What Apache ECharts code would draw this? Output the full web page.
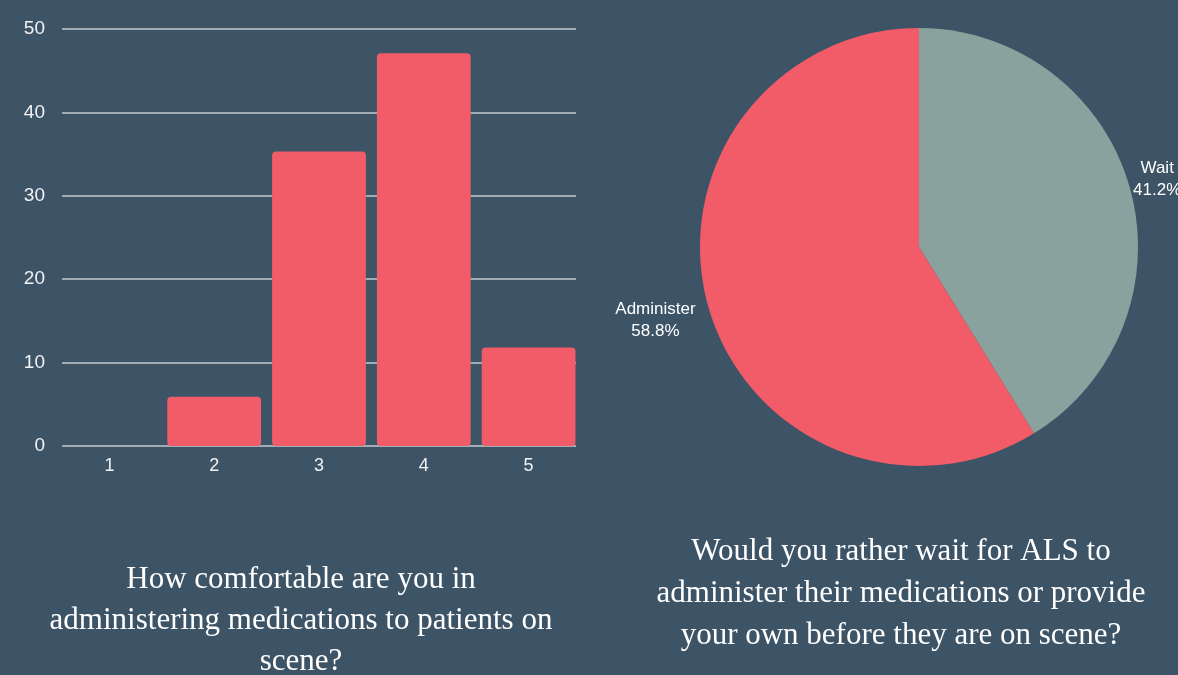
<!DOCTYPE html>
<html>
<head>
<meta charset="utf-8">
<script src="https://cdn.jsdelivr.net/npm/echarts@6/dist/echarts.min.js"></script>
<style>
html,body{margin:0;padding:0;background:#3d5366;}
#c{width:1178px;height:675px;}
</style>
</head>
<body>
<div id="c"></div>
<script>
var barCategories = ['1', '2', '3', '4', '5'];
var barValues = [0, 5.9, 35.3, 47.1, 11.8];
var yTicks = {min: 0, max: 50, interval: 10};
var pieNames = ['Wait', 'Administer'];
var pieValues = [41.2, 58.8];
var leftTitle = 'How comfortable are you in\nadministering medications to patients on\nscene?';
var rightTitle = 'Would you rather wait for ALS to\nadminister their medications or provide\nyour own before they are on scene?';

var RED = '#f25c69';
var GREEN = '#89a29d';
var AXISTEXT = '#f0f2f4';
var chart = echarts.init(document.getElementById('c'), null, {renderer: 'canvas'});
chart.setOption({
  backgroundColor: '#3d5366',
  animation: false,
  title: [
    {text: leftTitle, left: 301, top: 559, textAlign: 'center', padding: 0,
     textStyle: {color: '#ffffff', fontFamily: 'Liberation Serif', fontWeight: 'normal', fontSize: 31, lineHeight: 41}},
    {text: rightTitle, left: 901, top: 531, textAlign: 'center', padding: 0,
     textStyle: {color: '#ffffff', fontFamily: 'Liberation Serif', fontWeight: 'normal', fontSize: 31, lineHeight: 42}}
  ],
  grid: [
    {left: 62, right: 602, top: 29, bottom: 229, containLabel: false},
    {left: 57, right: 597, top: 29, bottom: 229, containLabel: false}
  ],
  xAxis: [
    {gridIndex: 0, type: 'value', min: 0, max: 1, show: false},
    {
      gridIndex: 1, type: 'category', data: barCategories,
      axisLine: {show: false},
      axisTick: {show: false},
      axisLabel: {color: AXISTEXT, fontSize: 18, fontFamily: 'Liberation Sans', margin: 11}
    }
  ],
  yAxis: [
    {
      gridIndex: 0, type: 'value', min: yTicks.min, max: yTicks.max, interval: yTicks.interval,
      axisLine: {show: false}, axisTick: {show: false},
      splitLine: {lineStyle: {color: '#c4cad0', width: 1.5}},
      axisLabel: {color: AXISTEXT, fontSize: 19, fontFamily: 'Liberation Sans', margin: 17}
    },
    {
      gridIndex: 1, type: 'value', min: yTicks.min, max: yTicks.max, interval: yTicks.interval,
      show: false, splitLine: {show: false}
    }
  ],
  series: [
    {
      type: 'bar', xAxisIndex: 1, yAxisIndex: 1, data: barValues, barCategoryGap: '10.5%',
      itemStyle: {color: RED, borderRadius: 4}, z: 3
    },
    {
      type: 'pie', center: [919, 247], radius: 219, startAngle: 90, clockwise: true,
      data: pieNames.map(function (n, i) { return {name: n, value: pieValues[i], itemStyle: {color: i === 0 ? GREEN : RED}}; }),
      label: {
        show: true, position: 'outside', color: '#ffffff', fontFamily: 'Liberation Sans', fontSize: 17,
        overflow: 'none',
        formatter: function (p) { return '{c|' + p.name + '}\n{c|' + p.value.toFixed(1) + '%}'; },
        rich: {c: {align: 'center', color: '#ffffff', fontSize: 17, fontFamily: 'Liberation Sans', lineHeight: 22}}
      },
      labelLine: {show: false, length: 8, length2: 0},
      labelLayout: function (p) { return p.dataIndex === 0 ? {dx: 2, dy: -6} : {dx: 0, dy: 11}; },
      emphasis: {disabled: true}
    }
  ]
});
</script>
</body>
</html>
